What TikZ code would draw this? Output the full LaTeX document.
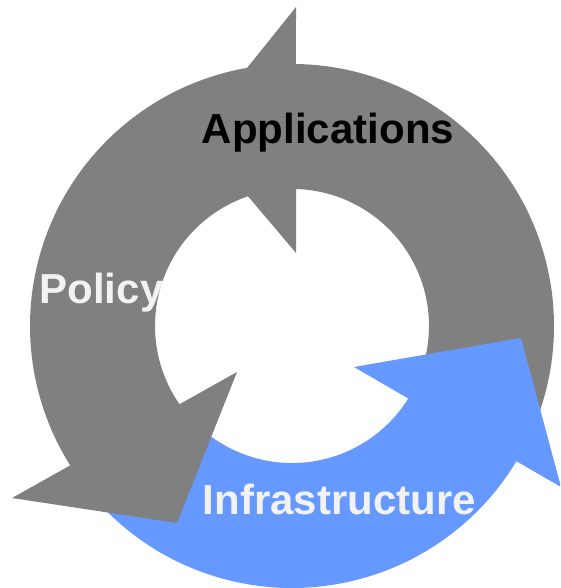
\documentclass[tikz,border=0pt]{standalone}
\usepackage{fontspec}
\setmainfont{Liberation Sans}
\definecolor{ringgray}{HTML}{808080}
\definecolor{ringblue}{HTML}{6699FF}
\definecolor{offwhite}{HTML}{F2F2F2}
\tikzset{
  arrowshape/.style={draw=none},
  lbl/.style={inner sep=0pt, anchor=base, font=\bfseries\fontsize{42}{50}\selectfont}
}
\begin{document}
\begin{tikzpicture}[x=1pt,y=1pt]
\clip (0,0) rectangle (560,588);
% centre of the ring: (292,262); outer radius 262, inner radius 137
% Applications arrow (gray), tail hidden under the blue head
\fill[ringgray, arrowshape]
  (292,262) ++(-25:262) arc[start angle=-25, end angle=89.13, radius=262]
  -- (296,581) -- (194.7,454.8) -- (296,335) -- (296,399)
  arc[start angle=88.33, end angle=-25, radius=137] -- cycle;
% Infrastructure arrow (blue), tail hidden under the Policy head
\fill[ringblue, arrowshape]
  (292,262) ++(-138:262) arc[start angle=-138, end angle=-31.07, radius=262]
  -- (561,101) -- (521,250) -- (354,221) -- (408.3,189.5)
  arc[start angle=-31.94, end angle=-138, radius=137] -- cycle;
% Policy arrow (gray)
\fill[ringgray, arrowshape]
  (292,262) ++(100:262) arc[start angle=100, end angle=212.15, radius=262]
  -- (12,90) -- (177,65) -- (237,216) -- (179.5,183.8)
  arc[start angle=214.8, end angle=100, radius=137] -- cycle;
\node[lbl, text=black] (apps) at (328,444) {Applications};
\node[lbl, text=offwhite] (policy) at (101.5,284.5) {Policy};
\node[lbl, text=offwhite] (infra) at (339.5,73) {Infrastructure};
\end{tikzpicture}
\end{document}
